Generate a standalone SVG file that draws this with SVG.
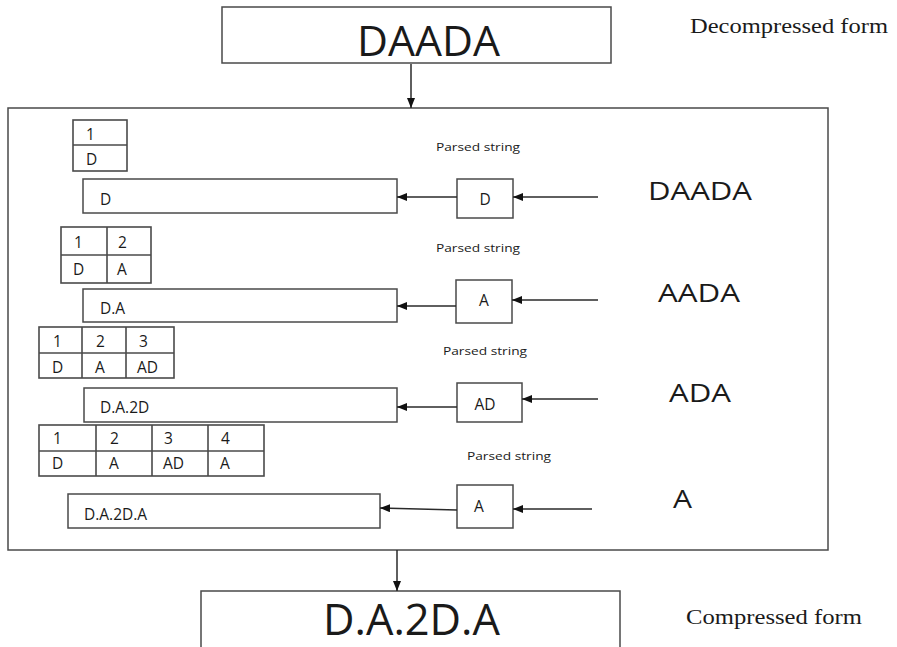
<svg xmlns="http://www.w3.org/2000/svg" width="897" height="647" viewBox="0 0 897 647">
  <style>
    .box { fill: #fff; stroke: #4a4a4a; stroke-width: 1.5; }
    .cell { fill: none; stroke: #4a4a4a; stroke-width: 1.6; }
    .wire { fill: none; stroke: #2a2a2a; stroke-width: 1.5; }
    .sans { font-family: "Open Sans", "Noto Sans", "Liberation Sans", sans-serif; fill: #1a1a1a; }
    .serif { font-family: "Liberation Serif", "Times New Roman", serif; fill: #1a1a1a; }
    .big { font-size: 42px; }
    .mid { font-size: 26px; }
    .small { font-size: 15.5px; }
    .tiny { font-size: 11.5px; }
  </style>
  <defs>
    <marker id="arrow" markerWidth="10" markerHeight="8" refX="10" refY="4" orient="auto" markerUnits="userSpaceOnUse">
      <path d="M0,0 L10,4 L0,8 Z" fill="#111"/>
    </marker>
  </defs>

  <rect width="897" height="647" fill="#fff"/>

  <!-- input string -->
  <g id="decompressed">
    <rect class="box" x="222" y="7" width="389" height="56"/>
    <text class="sans big" x="357" y="56" textLength="143" lengthAdjust="spacingAndGlyphs">DAADA</text>
    <text class="serif" x="690" y="33" font-size="20" textLength="198" lengthAdjust="spacingAndGlyphs">Decompressed form</text>
  </g>

  <!-- processing frame -->
  <g id="frame">
    <rect class="box" x="8" y="108" width="820" height="442"/>
  </g>

  <!-- dictionary tables -->
  <g id="table1">
    <rect class="cell" x="73" y="120" width="54" height="51"/>
    <line class="cell" x1="73" y1="145" x2="127" y2="145"/>
    <text class="sans small" x="86" y="140">1</text>
    <text class="sans small" x="86" y="165">D</text>
  </g>
  <g id="table2">
    <rect class="cell" x="61" y="227" width="90" height="56"/>
    <line class="cell" x1="61" y1="255" x2="151" y2="255"/>
    <line class="cell" x1="107" y1="227" x2="107" y2="283"/>
    <text class="sans small" x="74" y="248">1</text>
    <text class="sans small" x="118" y="248">2</text>
    <text class="sans small" x="73" y="275">D</text>
    <text class="sans small" x="117" y="275">A</text>
  </g>
  <g id="table3">
    <rect class="cell" x="39" y="327" width="135" height="51"/>
    <line class="cell" x1="39" y1="353" x2="174" y2="353"/>
    <line class="cell" x1="82" y1="327" x2="82" y2="378"/>
    <line class="cell" x1="126" y1="327" x2="126" y2="378"/>
    <text class="sans small" x="53" y="347">1</text>
    <text class="sans small" x="96" y="347">2</text>
    <text class="sans small" x="139" y="347">3</text>
    <text class="sans small" x="52" y="373">D</text>
    <text class="sans small" x="95" y="373">A</text>
    <text class="sans small" x="137" y="373">AD</text>
  </g>
  <g id="table4">
    <rect class="cell" x="39" y="425" width="225" height="51"/>
    <line class="cell" x1="39" y1="451" x2="264" y2="451"/>
    <line class="cell" x1="96" y1="425" x2="96" y2="476"/>
    <line class="cell" x1="152" y1="425" x2="152" y2="476"/>
    <line class="cell" x1="208" y1="425" x2="208" y2="476"/>
    <text class="sans small" x="53" y="444">1</text>
    <text class="sans small" x="110" y="444">2</text>
    <text class="sans small" x="164" y="444">3</text>
    <text class="sans small" x="221" y="444">4</text>
    <text class="sans small" x="52" y="469">D</text>
    <text class="sans small" x="109" y="469">A</text>
    <text class="sans small" x="163" y="469">AD</text>
    <text class="sans small" x="220" y="469">A</text>
  </g>

  <!-- output so far -->
  <g id="output1">
    <rect class="box" x="83" y="179" width="314" height="34"/>
    <text class="sans small" x="100" y="205">D</text>
  </g>
  <g id="output2">
    <rect class="box" x="83" y="289" width="314" height="33"/>
    <text class="sans small" x="100" y="314">D.A</text>
  </g>
  <g id="output3">
    <rect class="box" x="84" y="388" width="313" height="34"/>
    <text class="sans small" x="100" y="413">D.A.2D</text>
  </g>
  <g id="output4">
    <rect class="box" x="68" y="494" width="312" height="34"/>
    <text class="sans small" x="84" y="520">D.A.2D.A</text>
  </g>

  <!-- parsed tokens -->
  <g id="token1">
    <text class="sans tiny" x="436" y="151" textLength="84" lengthAdjust="spacingAndGlyphs">Parsed string</text>
    <rect class="box" x="457" y="179" width="56" height="39"/>
    <text class="sans small" x="485" y="205" text-anchor="middle">D</text>
  </g>
  <g id="token2">
    <text class="sans tiny" x="436" y="252" textLength="84" lengthAdjust="spacingAndGlyphs">Parsed string</text>
    <rect class="box" x="456" y="280" width="56" height="43"/>
    <text class="sans small" x="484" y="306" text-anchor="middle">A</text>
  </g>
  <g id="token3">
    <text class="sans tiny" x="443" y="355" textLength="84" lengthAdjust="spacingAndGlyphs">Parsed string</text>
    <rect class="box" x="457" y="383" width="65" height="39"/>
    <text class="sans small" x="485" y="410" text-anchor="middle">AD</text>
  </g>
  <g id="token4">
    <text class="sans tiny" x="467" y="460" textLength="84" lengthAdjust="spacingAndGlyphs">Parsed string</text>
    <rect class="box" x="457" y="485" width="56" height="43"/>
    <text class="sans small" x="479" y="512" text-anchor="middle">A</text>
  </g>

  <!-- remaining input -->
  <g id="remaining">
    <text class="sans mid" x="648" y="200" textLength="104" lengthAdjust="spacingAndGlyphs">DAADA</text>
    <text class="sans mid" x="658" y="302" textLength="82" lengthAdjust="spacingAndGlyphs">AADA</text>
    <text class="sans mid" x="669" y="402" textLength="62" lengthAdjust="spacingAndGlyphs">ADA</text>
    <text class="sans mid" x="673" y="508" textLength="19" lengthAdjust="spacingAndGlyphs">A</text>
  </g>

  <!-- result -->
  <g id="compressed">
    <rect class="box" x="201" y="591" width="419" height="70"/>
    <text class="sans" x="323" y="635" font-size="43" textLength="177" lengthAdjust="spacingAndGlyphs">D.A.2D.A</text>
    <text class="serif" x="686" y="624" font-size="20" textLength="176" lengthAdjust="spacingAndGlyphs">Compressed form</text>
  </g>

  <!-- connectors -->
  <g id="connectors">
    <line class="wire" x1="411" y1="64" x2="411" y2="108" marker-end="url(#arrow)"/>
    <line class="wire" x1="598" y1="197" x2="513" y2="197" marker-end="url(#arrow)"/>
    <line class="wire" x1="457" y1="197" x2="397" y2="197" marker-end="url(#arrow)"/>
    <line class="wire" x1="598" y1="300" x2="512" y2="300" marker-end="url(#arrow)"/>
    <line class="wire" x1="456" y1="306" x2="397" y2="306" marker-end="url(#arrow)"/>
    <line class="wire" x1="598" y1="399" x2="522" y2="399" marker-end="url(#arrow)"/>
    <line class="wire" x1="457" y1="407" x2="397" y2="407" marker-end="url(#arrow)"/>
    <line class="wire" x1="592" y1="509" x2="513" y2="509" marker-end="url(#arrow)"/>
    <line class="wire" x1="457" y1="510" x2="380" y2="508" marker-end="url(#arrow)"/>
    <line class="wire" x1="397" y1="550" x2="397" y2="591" marker-end="url(#arrow)"/>
  </g>
</svg>
